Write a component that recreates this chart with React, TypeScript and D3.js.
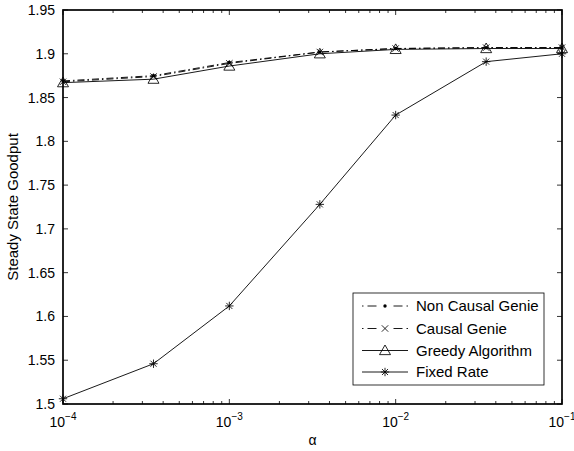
import React from "react";
import * as d3 from "d3";

const alphaValues = [1e-4, 3.5e-4, 1e-3, 3.5e-3, 1e-2, 3.5e-2, 1e-1];
const nonCausalGenie = [1.869, 1.875, 1.890, 1.902, 1.906, 1.907, 1.907];
const causalGenie = [1.868, 1.874, 1.889, 1.902, 1.906, 1.907, 1.907];
const greedyAlgorithm = [1.867, 1.871, 1.886, 1.900, 1.905, 1.906, 1.906];
const fixedRate = [1.506, 1.546, 1.612, 1.728, 1.830, 1.891, 1.900];

const yTicks = [1.5, 1.55, 1.6, 1.65, 1.7, 1.75, 1.8, 1.85, 1.9, 1.95];
const yTickLabels = ["1.5", "1.55", "1.6", "1.65", "1.7", "1.75", "1.8", "1.85", "1.9", "1.95"];
const xTicks = [1e-4, 1e-3, 1e-2, 1e-1];
const xTickExponents = ["−4", "−3", "−2", "−1"];

const seriesNames = ["Non Causal Genie", "Causal Genie", "Greedy Algorithm", "Fixed Rate"];
const seriesData = [nonCausalGenie, causalGenie, greedyAlgorithm, fixedRate];
const seriesMarkers = ["dot", "x", "triangle", "star"];
const seriesDash = ["7,3,1.5,3", "7,3,1.5,3", null, null];
const legendDash = ["1.5,4,9,17,9,4,1.5", "1.5,4,9,17,9,4,1.5", null, null];

const W = 574;
const H = 451;
const L = 63, R = 562, T = 10, B = 404;
const FONT = "'Liberation Sans', Arial, Helvetica, sans-serif";

function Marker({ type, x, y }: { type: string; x: number; y: number }) {
  const sw = 0.85;
  if (type === "dot") {
    return <circle cx={x} cy={y} r={1.7} fill="black" />;
  }
  if (type === "x") {
    const r = 3.2;
    return (
      <path
        d={`M${x - r},${y - r}L${x + r},${y + r}M${x - r},${y + r}L${x + r},${y - r}`}
        stroke="black"
        strokeWidth={sw}
        fill="none"
      />
    );
  }
  if (type === "triangle") {
    const s = 5.5;
    return (
      <path
        d={`M${x},${y - s}L${x + s},${y + s * 0.75}L${x - s},${y + s * 0.75}Z`}
        stroke="black"
        strokeWidth={sw}
        fill="none"
      />
    );
  }
  const r = 4.2;
  const d2 = r * 0.72;
  return (
    <path
      d={`M${x - r},${y}L${x + r},${y}M${x},${y - r}L${x},${y + r}M${x - d2},${y - d2}L${x + d2},${y + d2}M${x - d2},${y + d2}L${x + d2},${y - d2}`}
      stroke="black"
      strokeWidth={sw}
      fill="none"
    />
  );
}

export default function App() {
  const x = d3.scaleLog().domain([1e-4, 1e-1]).range([L, R]);
  const y = d3.scaleLinear().domain([1.5, 1.95]).range([B, T]);

  const line = d3
    .line<[number, number]>()
    .x((d) => x(d[0]))
    .y((d) => y(d[1]));

  const minorTicks: number[] = [];
  for (let e = -4; e < -1; e++) {
    for (let m = 2; m <= 9; m++) minorTicks.push(m * Math.pow(10, e));
  }

  const legendX = 353, legendY = 293, legendW = 191, legendH = 92;
  const rowYs = [306, 328.5, 350.5, 372];

  return (
    <svg
      width={W}
      height={H}
      style={{ position: "absolute", left: 0, top: 0, background: "white" }}
      fontFamily={FONT}
    >
      <rect x={0} y={0} width={W} height={H} fill="white" />

      {seriesData.map((vals, i) => {
        const pts = alphaValues.map((a, j) => [a, vals[j]] as [number, number]);
        return (
          <g key={seriesNames[i]}>
            <path
              d={line(pts) || ""}
              fill="none"
              stroke="black"
              strokeWidth={0.9}
              strokeDasharray={seriesDash[i] || undefined}
            />
            {pts.map((p, j) => (
              <Marker key={j} type={seriesMarkers[i]} x={x(p[0])} y={y(p[1])} />
            ))}
          </g>
        );
      })}

      <g stroke="black" strokeWidth={0.8}>
        {xTicks.map((t) => (
          <g key={"xt" + t}>
            <line x1={x(t)} x2={x(t)} y1={B} y2={B - 5} />
            <line x1={x(t)} x2={x(t)} y1={T} y2={T + 5} />
          </g>
        ))}
        {minorTicks.map((t) => (
          <g key={"xm" + t}>
            <line x1={x(t)} x2={x(t)} y1={B} y2={B - 3} />
            <line x1={x(t)} x2={x(t)} y1={T} y2={T + 3} />
          </g>
        ))}
        {yTicks.map((t) => (
          <g key={"yt" + t}>
            <line x1={L} x2={L + 5} y1={y(t)} y2={y(t)} />
            <line x1={R} x2={R - 5} y1={y(t)} y2={y(t)} />
          </g>
        ))}
      </g>

      <rect x={L} y={T} width={R - L} height={B - T} fill="none" stroke="black" strokeWidth={1.7} />

      {yTicks.map((t, i) => (
        <text key={"yl" + t} x={L - 8} y={y(t)} dy="0.36em" textAnchor="end" fontSize={14} fill="black">
          {yTickLabels[i]}
        </text>
      ))}

      {xTicks.map((t, i) => (
        <text key={"xl" + t} x={x(t)} y={426.5} textAnchor="middle" fontSize={14} fill="black">
          10
          <tspan dy={-7} fontSize={10}>
            {xTickExponents[i]}
          </tspan>
        </text>
      ))}

      <text x={(L + R) / 2} y={445} textAnchor="middle" fontSize={14} fill="black">
        α
      </text>
      <text
        transform={`translate(18, ${(T + B) / 2}) rotate(-90)`}
        textAnchor="middle"
        fontSize={15}
        fill="black"
      >
        Steady State Goodput
      </text>

      <rect x={legendX} y={legendY} width={legendW} height={legendH} fill="white" stroke="black" strokeWidth={0.8} />
      {seriesNames.map((name, i) => (
        <g key={"lg" + name}>
          <line
            x1={362}
            x2={408}
            y1={rowYs[i]}
            y2={rowYs[i]}
            stroke="black"
            strokeWidth={0.9}
            strokeDasharray={legendDash[i] || undefined}
          />
          <Marker type={seriesMarkers[i]} x={385} y={rowYs[i]} />
          <text x={416} y={rowYs[i]} dy="0.36em" fontSize={15} fill="black">
            {name}
          </text>
        </g>
      ))}
    </svg>
  );
}
